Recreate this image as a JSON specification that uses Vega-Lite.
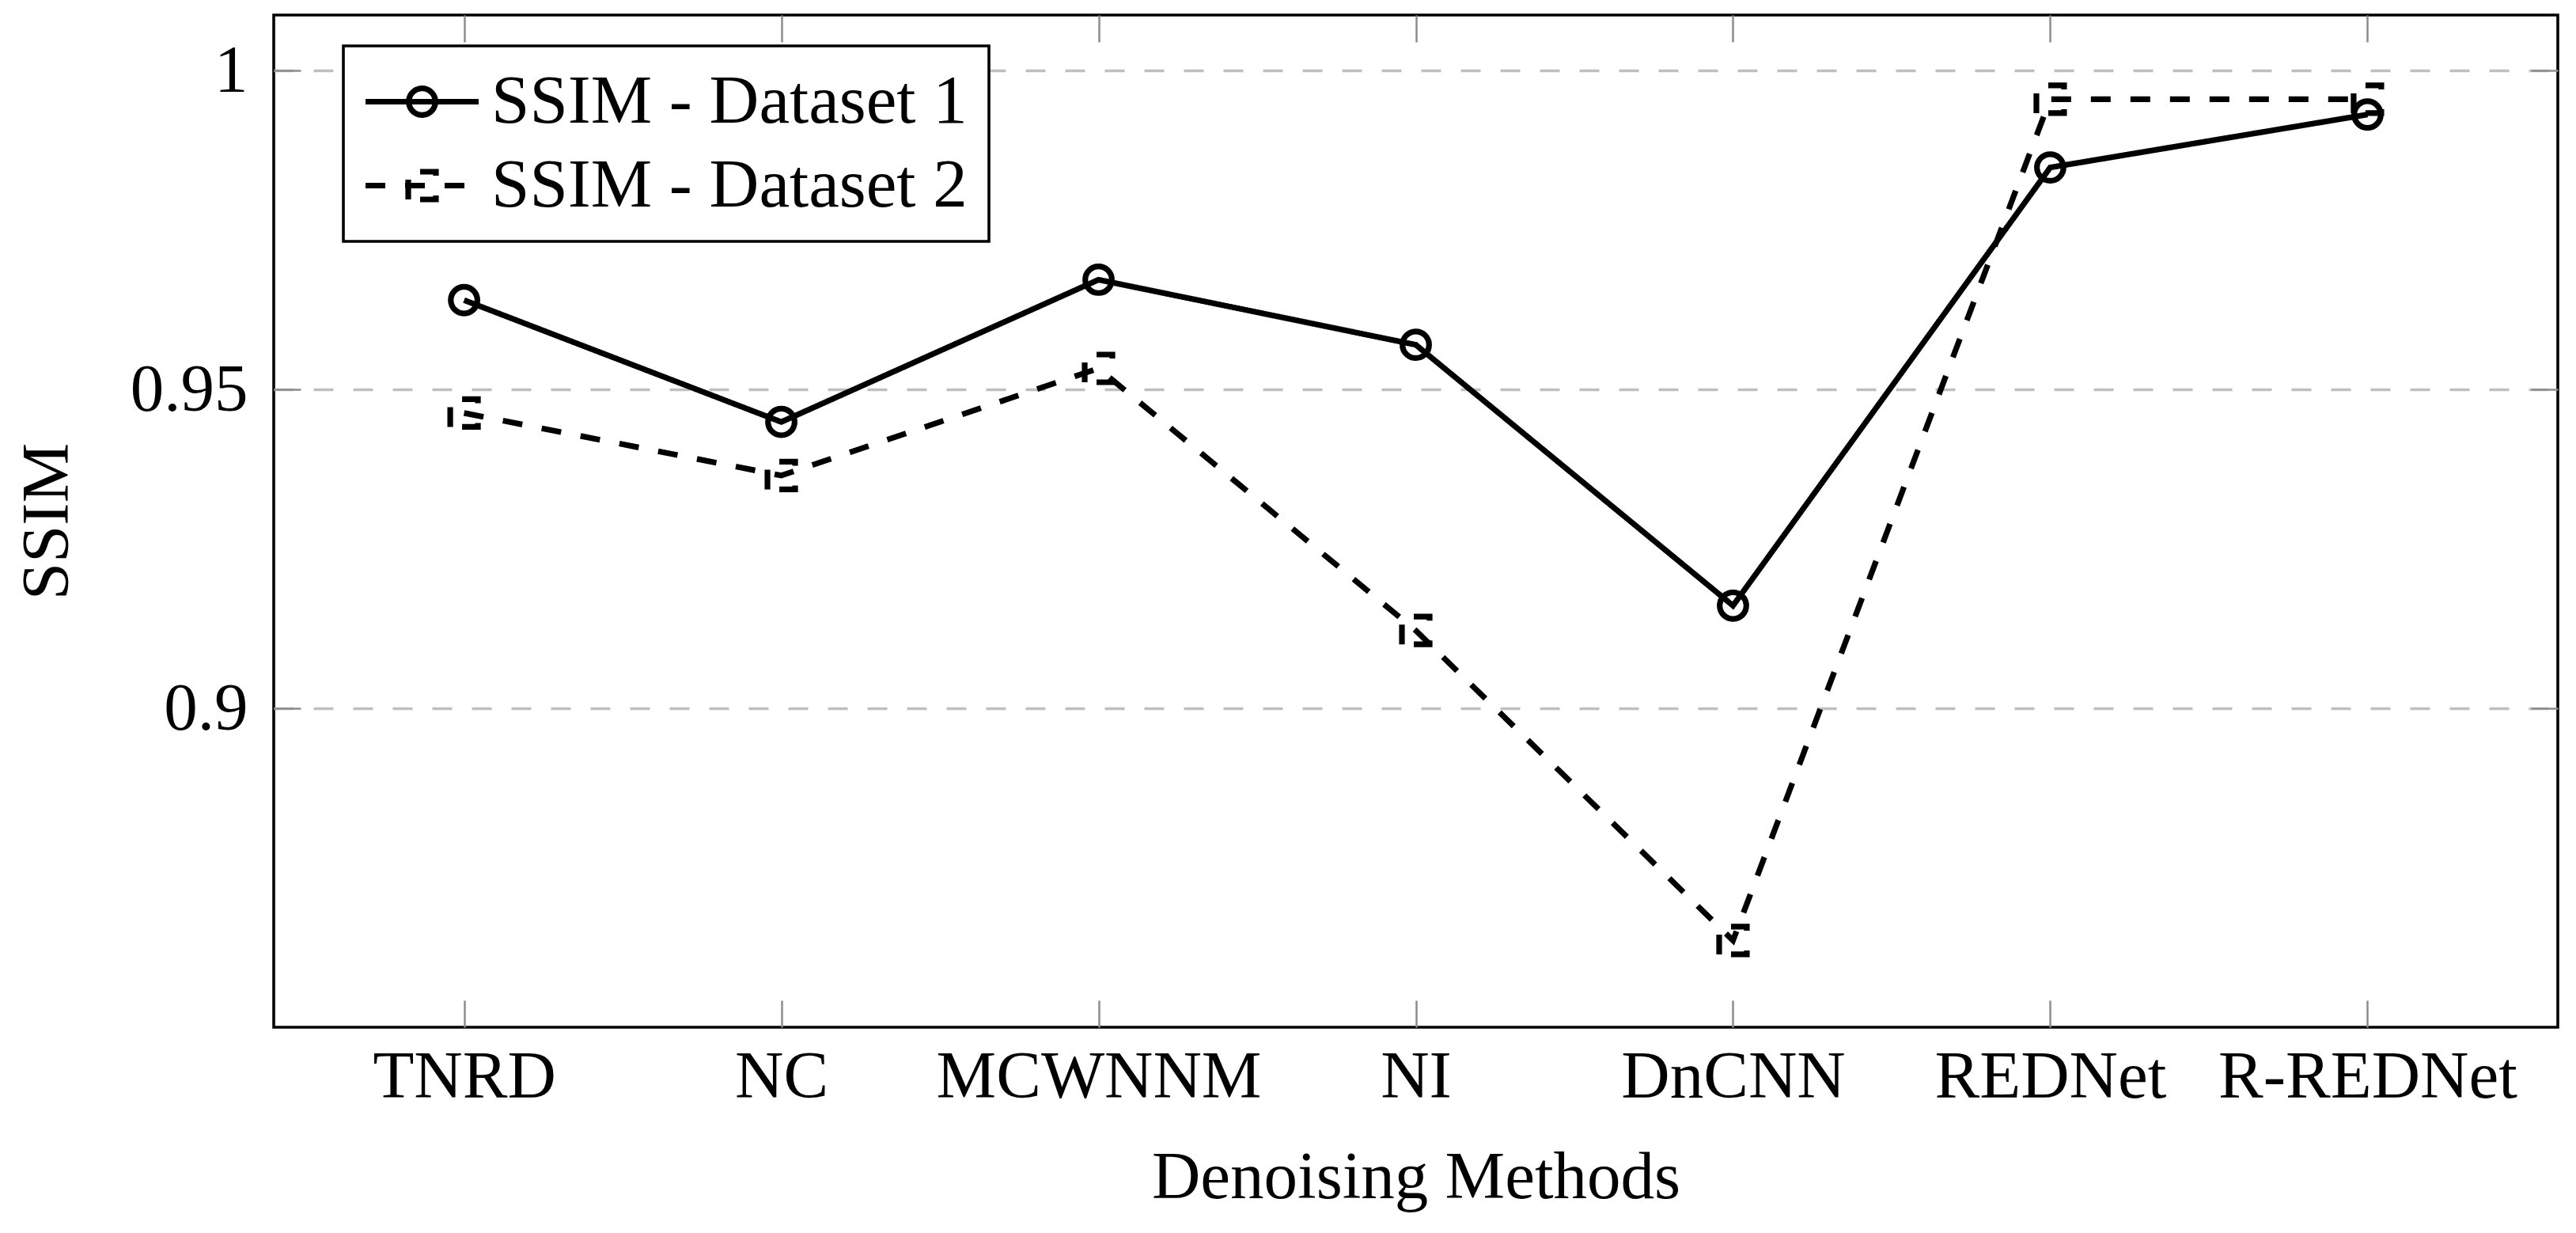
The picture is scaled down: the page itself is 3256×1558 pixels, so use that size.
{
  "$schema": "https://vega.github.io/schema/vega-lite/v6.json",
  "width": 2887,
  "height": 1279,
  "autosize": {"type": "none"},
  "padding": {"left": 346, "top": 19, "right": 23, "bottom": 260},
  "background": "white",
  "config": {
    "font": "Liberation Serif",
    "view": {"stroke": "black", "strokeWidth": 3.6},
    "axis": {
      "labelFont": "Liberation Serif",
      "labelFontSize": 85,
      "labelColor": "black",
      "labelLimit": 0,
      "titleFont": "Liberation Serif",
      "titleFontSize": 85,
      "titleFontWeight": "normal",
      "titleColor": "black",
      "tickColor": "#8c8c8c",
      "tickWidth": 2.5,
      "tickSize": -34,
      "domain": false,
      "labelOverlap": false,
      "labelFlush": false,
      "labelBound": false
    }
  },
  "data": {
    "values": [
      {"method": "TNRD", "series": "SSIM - Dataset 1", "ssim": 0.964},
      {"method": "NC", "series": "SSIM - Dataset 1", "ssim": 0.9449},
      {"method": "MCWNNM", "series": "SSIM - Dataset 1", "ssim": 0.9672},
      {"method": "NI", "series": "SSIM - Dataset 1", "ssim": 0.957},
      {"method": "DnCNN", "series": "SSIM - Dataset 1", "ssim": 0.9161},
      {"method": "REDNet", "series": "SSIM - Dataset 1", "ssim": 0.9848},
      {"method": "R-REDNet", "series": "SSIM - Dataset 1", "ssim": 0.9931},
      {"method": "TNRD", "series": "SSIM - Dataset 2", "ssim": 0.9463},
      {"method": "NC", "series": "SSIM - Dataset 2", "ssim": 0.9365},
      {"method": "MCWNNM", "series": "SSIM - Dataset 2", "ssim": 0.9533},
      {"method": "NI", "series": "SSIM - Dataset 2", "ssim": 0.9122},
      {"method": "DnCNN", "series": "SSIM - Dataset 2", "ssim": 0.8636},
      {"method": "REDNet", "series": "SSIM - Dataset 2", "ssim": 0.9955},
      {"method": "R-REDNet", "series": "SSIM - Dataset 2", "ssim": 0.9955}
    ]
  },
  "resolve": {"axis": {"x": "independent", "y": "independent"}},
  "layer": [
    {
      "mark": {"type": "line", "stroke": "black", "strokeWidth": 7.2},
      "encoding": {
        "x": {
          "field": "method", "type": "ordinal",
          "sort": ["TNRD", "NC", "MCWNNM", "NI", "DnCNN", "REDNet", "R-REDNet"],
          "scale": {"type": "point", "padding": 0.6},
          "axis": {
            "orient": "bottom", "title": "Denoising Methods", "labelAngle": 0,
            "labelBaseline": "alphabetic", "labelPadding": 122, "labelLimit": 0,
            "titleX": 1443.5, "titleY": 215, "titleBaseline": "alphabetic", "titleAlign": "center",
            "grid": false
          }
        },
        "y": {
          "field": "ssim", "type": "quantitative",
          "scale": {"domain": [0.85, 1.0087], "nice": false, "zero": false},
          "axis": {
            "orient": "left", "title": "SSIM", "values": [0.9, 0.95, 1], "format": ".2~f",
            "labelPadding": 67, "labelBaseline": "middle",
            "titleX": -261, "titleY": 639.5, "titleAngle": -90, "titleBaseline": "alphabetic", "titleAlign": "center",
            "grid": true, "gridColor": "#bfbfbf", "gridDash": [25, 25], "gridWidth": 3.4
          }
        },
        "detail": {"field": "series"},
        "strokeDash": {
          "field": "series", "type": "nominal",
          "scale": {"domain": ["SSIM - Dataset 1", "SSIM - Dataset 2"], "range": [[1, 0], [25, 25]]},
          "legend": {
            "title": null,
            "orient": "none",
            "legendX": 88,
            "legendY": 39,
            "padding": 27,
            "fillColor": "white",
            "strokeColor": "black",
            "labelFont": "Liberation Serif",
            "labelFontSize": 87,
            "labelColor": "black",
            "labelLimit": 0,
            "symbolSize": 1600,
            "symbolOffset": 29,
            "labelOffset": 44,
            "rowPadding": 18,
            "symbolStrokeWidth": 7.2,
            "symbolStrokeColor": "black",
            "encode": {
              "legend": {"update": {"strokeWidth": {"value": 3.6}}},
              "symbols": {
                "update": {
                  "shape": {"signal": "datum.value === 'SSIM - Dataset 1' ? 'M-3.575,0H3.575M-0.84,0A0.84,0.84 0 1,0 0.84,0A0.84,0.84 0 1,0 -0.84,0' : 'M-3.575,0H3.575M-0.875,0.875V-0.875H0.875V0.875Z'"},
                  "stroke": {"value": "black"},
                  "strokeWidth": {"value": 7.2},
                  "fill": {"value": "transparent"}
                }
              }
            }
          }
        }
      }
    },
    {
      "transform": [{"filter": "datum.series === 'SSIM - Dataset 1'"}],
      "mark": {"type": "point", "shape": "circle", "filled": false, "stroke": "black", "strokeWidth": 7.2, "size": 1130, "opacity": 1},
      "encoding": {
        "x": {"field": "method", "type": "ordinal", "sort": ["TNRD", "NC", "MCWNNM", "NI", "DnCNN", "REDNet", "R-REDNet"], "axis": null},
        "y": {"field": "ssim", "type": "quantitative", "axis": null}
      }
    },
    {
      "transform": [{"filter": "datum.series === 'SSIM - Dataset 2'"}],
      "mark": {"type": "point", "shape": "M-1,1V-1H1V1Z", "filled": false, "stroke": "black", "strokeWidth": 7.2, "strokeDash": [25, 25], "size": 1225, "opacity": 1},
      "encoding": {
        "x": {"field": "method", "type": "ordinal", "sort": ["TNRD", "NC", "MCWNNM", "NI", "DnCNN", "REDNet", "R-REDNet"], "axis": null},
        "y": {"field": "ssim", "type": "quantitative", "axis": null}
      }
    },
    {
      "mark": {"type": "point", "opacity": 0},
      "encoding": {
        "x": {
          "field": "method", "type": "ordinal",
          "sort": ["TNRD", "NC", "MCWNNM", "NI", "DnCNN", "REDNet", "R-REDNet"],
          "axis": {"orient": "top", "labels": false, "title": null, "grid": false}
        },
        "y": {
          "field": "ssim", "type": "quantitative",
          "axis": {"orient": "right", "labels": false, "title": null, "grid": false, "values": [0.9, 0.95, 1]}
        }
      }
    }
  ]
}
